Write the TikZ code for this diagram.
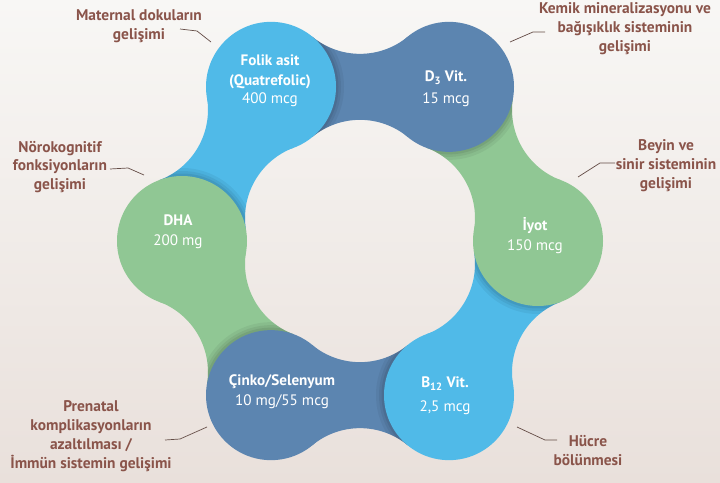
\documentclass[tikz,border=0pt]{standalone}
\usepackage{fontspec}
\setmainfont{PT Sans}
\definecolor{lblue}{RGB}{80,186,232}
\definecolor{dblue}{RGB}{92,133,176}
\definecolor{mgreen}{RGB}{144,199,148}
\definecolor{labc}{RGB}{138,84,74}
\definecolor{leadc}{RGB}{100,76,70}
\definecolor{bgtop}{RGB}{248,247,245}
\definecolor{bgbot}{RGB}{233,224,219}
\tikzset{
  circ/.style={circle, minimum size=130bp, inner sep=0pt, draw=none},
  lbl/.style={text=labc, font=\bfseries\fontsize{15.5}{19}\selectfont, align=center, inner sep=0pt},
  ctext/.style={text=white, align=center, font=\fontsize{15.2}{20}\selectfont, inner sep=0pt},
  leader/.style={draw=leadc, line width=0.7bp},
}
\newcommand\bridgepath{(0,0) -- (41.3,50.1) .. controls (69,27.3) and (109,27.3) .. (136.7,50.1) -- (178,0) -- (136.7,-50.1) .. controls (109,-27.3) and (69,-27.3) .. (41.3,-50.1) -- cycle}
\newcommand\mybridge[3]{%
  \begin{scope}[shift={(#1)}, rotate=#2]
    \fill[#3] \bridgepath;
    \begin{scope}
      \clip \bridgepath;
      \fill[black, opacity=0.05] (178,0) circle (73);
      \fill[black, opacity=0.06] (178,0) circle (70);
      \fill[black, opacity=0.07] (178,0) circle (67.5);
    \end{scope}
  \end{scope}}
\begin{document}
\begin{tikzpicture}[x=1bp, y=-1bp]
  \shade[top color=bgtop, bottom color=bgbot] (0,0) rectangle (720,483);
  \useasboundingbox (0,0) rectangle (720,483);
  % centres
  \coordinate (cfol) at (271,86.85);
  \coordinate (cd3)  at (449,86.85);
  \coordinate (ciy)  at (538,241);
  \coordinate (cb12) at (449,395.15);
  \coordinate (cci)  at (271,395.15);
  \coordinate (cdha) at (182,241);
  % bridges
  \mybridge{cd3}{180}{dblue}
  \mybridge{ciy}{120}{mgreen}
  \mybridge{cb12}{60}{lblue}
  \mybridge{cci}{0}{dblue}
  \mybridge{cdha}{-60}{mgreen}
  \mybridge{cfol}{240}{lblue}
  % circles
  \node[circ, fill=lblue]  (fol) at (cfol) {};
  \node[circ, fill=dblue]  (d3)  at (cd3)  {};
  \node[circ, fill=mgreen] (iy)  at (ciy)  {};
  \node[circ, fill=lblue]  (b12) at (cb12) {};
  \node[circ, fill=dblue]  (ci)  at (cci)  {};
  \node[circ, fill=mgreen] (dha) at (cdha) {};
  % circle texts
  \node[ctext] (folt) at (270,81) {\textbf{Folik asit}\\\textbf{(Quatrefolic)}\\[-1.5pt]400 mcg};
  \node[ctext] (d3t)  at (446,89) {\textbf{D\textsubscript{3} Vit.}\\[2pt]15 mcg};
  \node[ctext] (iyt)  at (535,236) {\textbf{İyot}\\150 mcg};
  \node[ctext] (b12t) at (445,396) {\textbf{B\textsubscript{12} Vit.}\\[4pt]2,5 mcg};
  \node[ctext] (cit)  at (282,392) {\textbf{Çinko/Selenyum}\\10 mg/55 mcg};
  \node[ctext] (dhat) at (178,232) {\textbf{DHA}\\200 mg};
  % labels
  \node[lbl] (Lmat) at (139,26)  {Maternal dokuların\\gelişimi};
  \node[lbl] (Lkem) at (625,29)  {Kemik mineralizasyonu ve\\bağışıklık sisteminin\\gelişimi};
  \node[lbl] (Lnor) at (60,167)  {Nörokognitif\\fonksiyonların\\gelişimi};
  \node[lbl] (Lbey) at (666,166) {Beyin ve\\sinir sisteminin\\gelişimi};
  \node[lbl] (Lpre) at (91,436)  {Prenatal\\komplikasyonların\\azaltılması /\\İmmün sistemin gelişimi};
  \node[lbl] (Lhuc) at (588,451) {Hücre\\bölünmesi};
  % leaders
  \coordinate (m1) at (180,29);  \coordinate (m2) at (197,31);  \coordinate (m3) at (211,42);
  \coordinate (k1) at (545,32);  \coordinate (k2) at (533,32);  \coordinate (k3) at (510,42);
  \coordinate (n1) at (110,169); \coordinate (n2) at (128,168); \coordinate (n3) at (144,175);
  \coordinate (b1) at (615,163); \coordinate (b2) at (600,163); \coordinate (b3) at (578,177);
  \coordinate (p1) at (165,440); \coordinate (p2) at (180,439); \coordinate (p3) at (207,427);
  \coordinate (h1) at (557,440); \coordinate (h2) at (545,440); \coordinate (h3) at (517,427);
  \draw[leader] (m1) -- (m2) -- (m3);
  \draw[leader] (k1) -- (k2) -- (k3);
  \draw[leader] (n1) -- (n2) -- (n3);
  \draw[leader] (b1) -- (b2) -- (b3);
  \draw[leader] (p1) -- (p2) -- (p3);
  \draw[leader] (h1) -- (h2) -- (h3);
\end{tikzpicture}
\end{document}
